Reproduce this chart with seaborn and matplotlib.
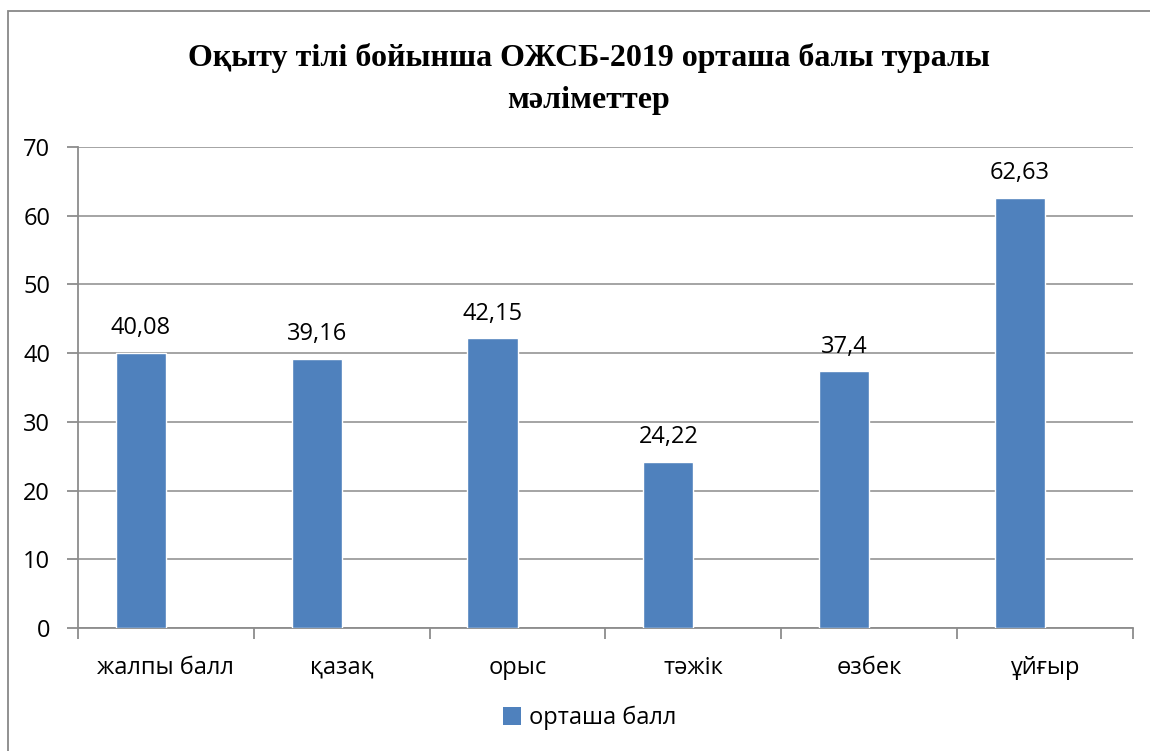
import matplotlib
matplotlib.use("Agg")
import matplotlib.pyplot as plt
import seaborn as sns
import pandas as pd
from matplotlib.patches import Rectangle, Patch
from matplotlib.ticker import FixedLocator

# Chart data
categories = ["жалпы балл", "қазақ", "орыс", "тәжік", "өзбек", "ұйғыр"]
values = [40.08, 39.16, 42.15, 24.22, 37.4, 62.63]
value_labels = ["40,08", "39,16", "42,15", "24,22", "37,4", "62,63"]
series_name = "орташа балл"
y_ticks = [0, 10, 20, 30, 40, 50, 60, 70]
title_text = "Оқыту тілі бойынша ОЖСБ-2019 орташа балы туралы\nмәліметтер"

BAR = "#4F81BD"
GRID = "#8C8C8C"
FS = 17

sns.set_theme(style="white")
plt.rcParams["font.family"] = ["Open Sans", "DejaVu Sans"]
plt.rcParams["text.color"] = "black"

df = pd.DataFrame({"тіл": categories, "балл": values, "серия": series_name})

W, H = 1150, 751
fig = plt.figure(figsize=(W / 100, H / 100), dpi=100)

# outer chart-area frame
fig.patches.append(Rectangle((8 / W, -0.05), 1.2, 1 - 11 / H + 0.05,
                             transform=fig.transFigure, fill=False,
                             edgecolor="#888888", linewidth=1.3, zorder=0))

ax = fig.add_axes([78 / W, 1 - 628 / H, (1133 - 78) / W, (628 - 147) / H])

# second (empty) hue level keeps the bars in the left half of each category slot
sns.barplot(data=df, x="тіл", y="балл", hue="серия",
            hue_order=[series_name, " "],
            palette={series_name: BAR, " ": BAR},
            order=categories, width=0.57, dodge=True, saturation=1,
            legend=False, ax=ax, zorder=3)

ax.set_xlim(-0.5, len(categories) - 0.5)
ax.set_ylim(0, 70)
ax.set_yticks(y_ticks)
ax.yaxis.grid(True, color=GRID, linewidth=1.1, zorder=0)
ax.set_axisbelow(True)

for side in ("top", "right"):
    ax.spines[side].set_visible(False)
for side in ("left", "bottom"):
    ax.spines[side].set_color(GRID)
    ax.spines[side].set_linewidth(1.3)

ax.tick_params(axis="y", which="major", left=True, length=8, width=1.3,
               color=GRID, labelsize=FS, pad=12, labelcolor="black")
ax.tick_params(axis="x", which="major", bottom=False, labelsize=FS, pad=14,
               labelcolor="black")
ax.xaxis.set_minor_locator(FixedLocator([i - 0.5 for i in range(len(categories) + 1)]))
ax.tick_params(axis="x", which="minor", bottom=True, length=8, width=1.3, color=GRID)
ax.set_xlabel("")
ax.set_ylabel("")

ax.bar_label(ax.containers[0], labels=value_labels, padding=9, fontsize=FS,
             color="black")

fig.text(589 / W, 1 - 79 / H, title_text, ha="center", va="center",
         fontsize=23, fontweight="bold", color="black",
         family=["Liberation Serif", "DejaVu Serif"], linespacing=1.55)

fig.legend(handles=[Patch(facecolor=BAR, edgecolor="none")], labels=[series_name],
           loc="center", bbox_to_anchor=(590 / W, 1 - 718 / H), frameon=False,
           fontsize=FS, handlelength=0.75, handleheight=0.75, handletextpad=0.35,
           labelcolor="black")

fig.savefig("out.png", dpi=100)
